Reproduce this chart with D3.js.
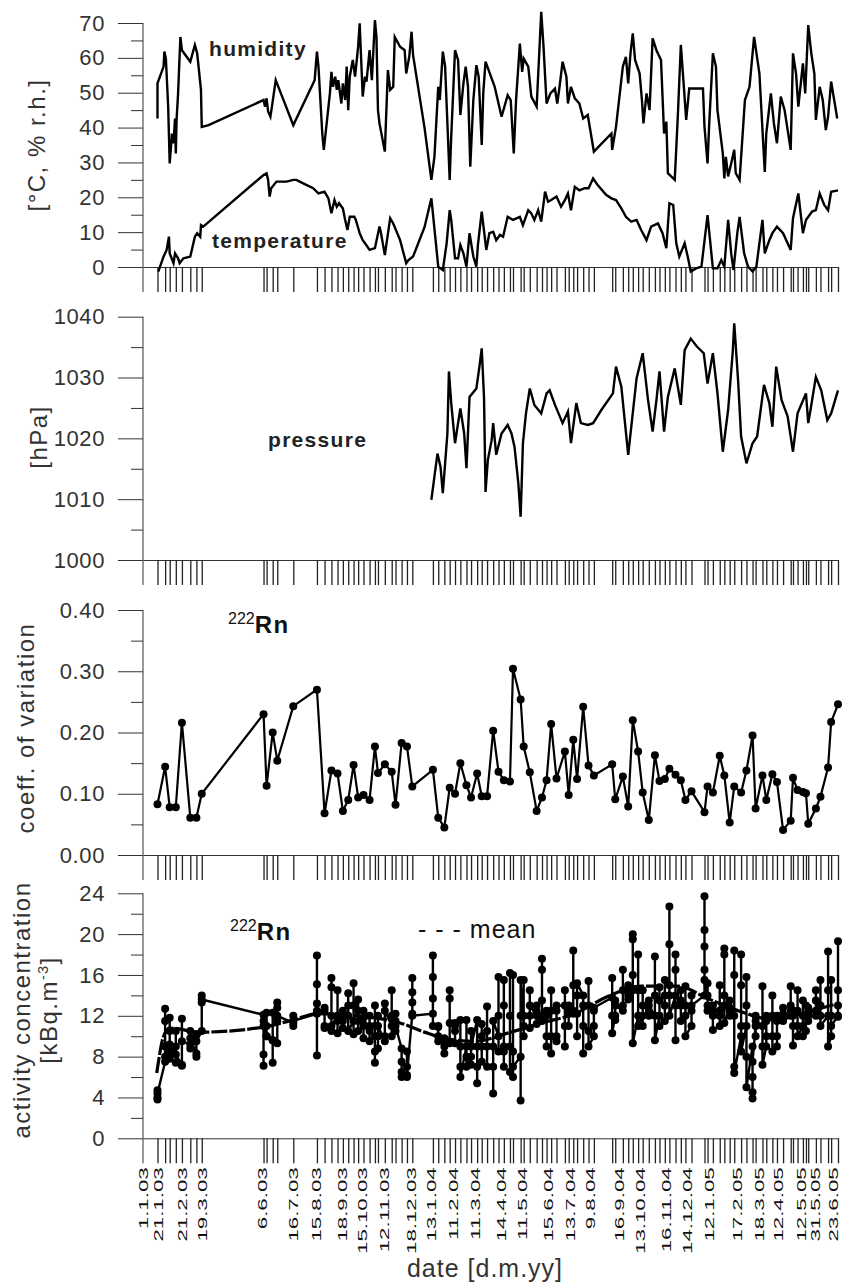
<!DOCTYPE html>
<html>
<head>
<meta charset="utf-8">
<script src="https://cdnjs.cloudflare.com/ajax/libs/d3/7.8.5/d3.min.js"></script>
<style>
body { margin: 0; background: #fff; }
text { font-family: "Liberation Sans", Arial, sans-serif; }
</style>
</head>
<body>
<svg class="chart"></svg>
<script>
// all series: [day counted from 1.1.2003, value]
var humidity = [[19,42.6],[19,52.7],[27,57.5],[28,61.8],[30,59.8],[33,46],[35,29.7],[38,38.3],[40,35.5],[42,42.6],[43,32.6],[44,42.2],[46,49.8],[49,66],[51,62.2],[62,58.9],[68,63.7],[71,61.3],[76,50.8],[77,40.2],[86,40.7],[158,47.9],[160,46],[162,48.4],[164,44.6],[167,43.1],[169,46],[174,53.6],[197,40.7],[225,53.6],[228,61.8],[230,57.5],[235,38.3],[237,33.6],[245,49.8],[247,56],[249,51.7],[252,54.6],[254,50.8],[256,53.6],[260,46.9],[262,52.7],[265,47.9],[267,57.5],[269,45],[271,54.6],[275,59.4],[278,54.6],[282,63.2],[284,69.9],[288,48.9],[291,54.6],[293,53.2],[297,62.2],[300,53.6],[304,70.8],[306,66],[308,45],[310,41.2],[317,33.1],[321,56.5],[324,50.8],[328,51.7],[330,66],[337,63.2],[343,62.2],[345,55.5],[349,60.3],[352,67.5],[354,60.8],[369,40],[378,25],[382,31.6],[387,51.7],[389,47.9],[393,61.8],[396,57.5],[402,25],[404,37.4],[409,62.2],[413,59.4],[416,43.6],[420,52.7],[423,57.5],[426,51.7],[429,28.8],[433,47.9],[437,57.9],[440,54.6],[444,35],[446,49.8],[449,58.9],[461,51.7],[470,43.1],[478,49.3],[482,47.9],[486,32.6],[489,47.9],[494,64.1],[497,56],[499,59.8],[505,57.5],[509,48.9],[516,46],[520,64.1],[522,73.2],[525,63.2],[529,46.9],[534,49.8],[540,51.2],[543,46.9],[546,51.7],[550,58.9],[555,54.6],[557,46.9],[561,51.7],[566,48.4],[572,46.9],[577,42.6],[583,43.6],[591,33.1],[614,38.3],[615,33.6],[620,40.2],[625,49.8],[629,57.5],[633,60.3],[636,52.7],[639,61.3],[642,67],[645,59.4],[651,55.5],[654,47.9],[656,41.2],[660,49.8],[664,45],[668,65.6],[673,62.2],[679,59.4],[683,38.3],[686,41.7],[688,26.9],[697,25],[701,43.1],[705,63.7],[708,54.6],[712,42.2],[716,51.2],[734,51.2],[736,40.2],[740,29.7],[742,40.2],[747,61.3],[751,57.5],[753,45],[760,32.6],[762,25.4],[764,31.6],[767,26],[771,29.7],[775,33.6],[777,26.9],[782,25],[789,47.9],[795,51.7],[801,66],[808,55.5],[815,27.3],[817,38.3],[823,49.8],[827,41.2],[831,35.5],[836,48.9],[841,45],[849,33.6],[852,61.3],[856,55.5],[859,46],[865,58.4],[868,49.8],[872,69.4],[876,61.3],[880,55.5],[882,42.2],[887,51.7],[891,47.9],[895,39.3],[898,43.1],[902,53.2],[906,47.9],[910,42.6]];

var temperature = [[20,-1.3],[27,3],[31,4.9],[34,8.7],[35,3.9],[40,1.1],[42,3.9],[46,2.5],[48,1.1],[53,2.5],[62,3],[68,8.7],[71,9.7],[75,8.7],[76,12],[79,11.6],[158,26.4],[162,26.9],[164,25],[166,20.2],[168,22.6],[175,24.5],[188,24.5],[197,25],[201,25],[210,24],[223,22.6],[230,21.1],[238,21.6],[243,19.7],[247,15.4],[251,19.2],[254,17.3],[257,18.3],[262,16.8],[265,13.5],[268,10.6],[271,14.4],[277,14.4],[279,13.5],[284,9.7],[288,7.7],[291,6.8],[297,4.9],[304,5.4],[310,11.6],[312,9.7],[317,3.4],[324,14],[328,12.5],[337,7.7],[345,1.1],[348,2],[354,3],[369,11.4],[378,19.7],[380,15.4],[387,0.1],[393,-0.9],[398,6.8],[402,16.3],[404,13.5],[409,2.5],[413,2.5],[416,6.3],[420,3.9],[424,0.1],[428,9.7],[433,3],[437,0.1],[439,6.3],[444,15.9],[450,4.9],[454,9.7],[459,10.1],[463,7.7],[468,9.2],[472,8.7],[478,14.4],[485,13.5],[494,14.4],[498,12],[505,16.3],[509,15.4],[513,13.5],[518,16.3],[522,13],[527,21.6],[531,18.7],[535,19.2],[542,20.2],[548,17.3],[553,19.2],[557,21.1],[561,16.3],[566,23],[572,22],[579,22.6],[584,22.6],[590,25.4],[596,23.5],[607,20.7],[614,19.7],[620,19.2],[627,16.8],[633,14.4],[640,13],[647,13.5],[653,10.6],[660,7.7],[666,11.6],[675,12.5],[681,9.7],[686,5.4],[690,18.3],[695,17.8],[699,6.8],[703,3],[710,6.8],[714,3],[718,-1.3],[725,-0.4],[732,0.1],[740,14.9],[747,-0.4],[753,-0.4],[758,2],[762,0.1],[767,13.5],[771,3.9],[774,-0.9],[779,9.7],[782,14.4],[788,3.9],[793,0.1],[799,-1.3],[804,0.1],[812,13.5],[815,3.9],[821,7.7],[825,9.7],[831,11.6],[839,9.7],[849,4.9],[852,14],[859,21.1],[865,9.7],[869,13.5],[877,15.9],[882,16.3],[887,21.1],[893,17.8],[898,16.3],[902,21.6],[911,22]];

var pressure = [[378,1009.9],[382,1013.7],[386,1017.5],[390,1015.3],[393,1011],[396,1015.9],[399,1020.8],[401,1031],[404,1025.8],[409,1019.2],[413,1022.5],[416,1024.9],[421,1020.8],[424,1015.1],[428,1026.8],[437,1028.2],[441,1031.8],[444,1034.8],[447,1026.8],[449,1011.2],[452,1016.4],[457,1019.7],[459,1022.5],[463,1017.3],[470,1020.8],[478,1022.2],[483,1020.8],[487,1018.6],[492,1012.6],[495,1007.1],[498,1019.2],[502,1024.1],[507,1028.2],[513,1025.5],[522,1024.1],[529,1027.4],[533,1027.9],[540,1025.5],[550,1022.5],[557,1024.4],[561,1019.2],[568,1025.8],[574,1022.5],[583,1022.2],[590,1022.5],[601,1024.7],[616,1027.4],[620,1031.8],[627,1028.5],[636,1017.3],[647,1029.9],[655,1034],[662,1026.3],[668,1021.1],[673,1026.3],[677,1031],[683,1021.1],[688,1026.8],[697,1031.5],[705,1025.5],[710,1034.5],[718,1036.4],[726,1035.1],[735,1034],[740,1029],[747,1034],[753,1027.4],[760,1017.8],[767,1024.7],[773,1034.2],[775,1038.9],[780,1029.6],[784,1020.3],[791,1015.9],[799,1019.2],[805,1020.3],[814,1028.8],[821,1025.8],[825,1021.9],[830,1031.8],[837,1026.3],[845,1023.6],[852,1017.8],[858,1024.1],[869,1027.4],[872,1022.5],[875,1024.7],[882,1030.1],[889,1027.9],[897,1023],[902,1024.1],[911,1027.9]];

var coeffVariation = [[19,0.083],[29,0.144],[35,0.078],[43,0.078],[51,0.216],[62,0.061],[70,0.061],[77,0.100],[158,0.230],[162,0.113],[170,0.200],[176,0.154],[197,0.243],[228,0.270],[238,0.068],[247,0.138],[255,0.133],[262,0.072],[269,0.090],[276,0.147],[282,0.094],[289,0.098],[297,0.090],[304,0.177],[308,0.134],[317,0.148],[326,0.136],[331,0.082],[339,0.183],[346,0.177],[353,0.112],[380,0.139],[387,0.061],[395,0.045],[402,0.110],[409,0.100],[416,0.150],[424,0.114],[430,0.094],[438,0.133],[444,0.096],[451,0.096],[459,0.203],[466,0.136],[473,0.122],[481,0.120],[485,0.304],[495,0.254],[499,0.177],[507,0.135],[516,0.072],[523,0.094],[529,0.122],[535,0.214],[542,0.125],[553,0.169],[558,0.098],[564,0.188],[569,0.124],[577,0.242],[584,0.146],[591,0.130],[615,0.148],[619,0.091],[629,0.128],[636,0.079],[642,0.220],[649,0.169],[655,0.102],[663,0.057],[671,0.163],[677,0.121],[684,0.124],[690,0.141],[698,0.131],[705,0.122],[711,0.090],[719,0.104],[736,0.070],[740,0.112],[747,0.102],[756,0.162],[762,0.130],[769,0.053],[775,0.112],[784,0.102],[791,0.138],[799,0.195],[803,0.076],[812,0.130],[817,0.090],[825,0.132],[831,0.119],[839,0.041],[849,0.056],[852,0.126],[858,0.106],[865,0.103],[869,0.101],[872,0.051],[882,0.076],[888,0.095],[898,0.143],[902,0.217],[911,0.246]];

// [day, measured activity concentrations of that sampling ...]
var activity = [[19,4.7,4.0,3.8,4.4],[29,7.5,12.7,9.0,11.5,8.0],[35,8.5,10.5,9.2,11.8,7.8],[43,9.0,10.5,7.4,8.2],[51,7.2,11.7,7.1,9.5],[62,9.2,10.5,8.8,9.8],[70,8.3,10.2,8.0,9.5],[77,10.5,13.3,14.0,13.6],[158,12.1,11.5,7.1,8.2,11.0],[162,10.0,12.3,11.0,10.0],[170,9.6,7.4,9.6,12.3],[176,13.3,12.8,9.3,11.5,12.0],[197,11.3,12.0,11.0,11.5],[228,12.2,17.9,15.1,13.2,8.1,12.5],[238,12.5,11.0,12.8,10.8],[247,10.5,15.7,14.8,12.0,11.0],[255,12.0,14.5,10.3,11.5],[262,11.5,12.5,10.8,12.0],[269,12.0,14.2,13.0,10.5],[276,11.5,15.2,10.2,13.0],[282,12.5,13.6,10.5,11.5],[289,11.0,12.5,9.8,11.8],[297,10.5,12.0,9.5,11.0],[304,11.0,13.0,8.5,7.4,10.0],[308,10.0,12.0,8.8,11.0],[317,9.5,13.2,10.0,12.5],[326,11.0,14.5,10.0,12.0],[331,11.5,12.2,10.5,11.0],[339,8.8,6.0,6.5,7.5],[346,7.0,6.0,8.5,6.2],[353,12.2,15.7,14.3,13.3,12.0],[380,12.2,17.9,15.8,13.7,11.0],[387,11.0,10.0,10.9,9.5],[395,9.5,8.3,9.0,9.8],[402,9.3,14.5,13.7,11.3],[409,11.3,9.3,10.5,11.0],[416,11.6,7.0,9.0,6.0],[424,9.0,11.6,8.0,7.0],[430,8.0,10.5,7.2,9.0],[438,11.6,5.4,7.0,9.0],[444,9.0,11.2,7.5,10.0],[451,10.5,12.9,9.0,7.0],[459,7.0,4.4,9.0,11.5],[466,10.0,15.8,12.0,8.5],[473,8.5,7.0,13.0,15.5,9.0],[481,9.0,16.2,12.0,6.5],[485,6.0,16.0,8.5,7.0],[495,8.0,3.7,12.0,15.5],[499,11.0,15.5,10.0,12.0],[507,12.0,14.5,10.8,13.0],[516,12.0,13.0,11.2,12.5],[523,12.0,17.6,16.5,13.5,11.5],[529,12.0,10.0,9.0,12.5],[535,12.5,14.5,8.3,10.0],[542,10.0,12.5,9.5,13.0],[553,13.0,14.5,9.0,11.0],[558,11.0,12.2,13.0,12.5],[564,12.5,18.4,15.0,12.2],[569,12.2,10.0,14.0,15.2],[577,14.0,8.3,11.0,13.0],[584,13.0,15.4,10.5,9.0],[591,10.0,12.5,11.0,12.8],[615,13.8,15.7,12.0,10.3],[619,12.0,13.5,11.6,13.0],[629,12.5,16.5,13.0,14.5],[636,14.0,15.0,13.6,14.5],[642,14.5,20.0,19.5,16.0,9.3],[649,12.0,18.0,14.5,11.0],[655,12.0,14.5,11.0,13.0],[663,12.5,13.5,12.0,13.0],[671,12.0,17.8,14.0,9.6],[677,12.0,14.8,11.0,13.5],[684,13.0,15.5,11.5,14.0],[690,14.0,22.7,19.0,15.0,12.0],[698,14.0,18.0,16.5,9.6,13.0],[705,13.0,14.5,11.5,13.5],[711,13.0,14.9,12.0,10.0],[719,11.0,14.0,12.5,13.0],[736,14.0,23.7,20.4,18.8,16.5,15.5],[740,14.0,15.2,12.5,13.0],[747,12.0,10.6,13.0,12.5],[756,12.5,15.0,11.0,12.0],[762,13.0,18.6,18.0,14.0,11.3],[769,12.5,13.5,12.0,12.8],[775,12.0,18.4,16.0,7.0,6.4],[784,10.0,18.0,15.0,11.0,8.5],[791,11.0,15.8,13.0,8.0,5.0],[799,9.0,6.0,3.9,4.5,7.5],[803,11.0,12.0,10.0,11.5],[812,11.0,14.9,9.0,7.2],[817,9.0,11.5,10.0,12.0],[825,12.0,14.0,8.5,10.0],[831,10.0,11.5,9.0,12.0],[839,12.0,12.8,11.5,12.2],[849,12.0,14.9,13.0,12.5],[852,12.0,9.1,11.0,12.5],[858,12.5,14.5,11.0,10.0],[865,11.0,13.5,10.0,12.0],[869,12.0,13.0,10.5,12.0],[872,12.0,12.8,11.5,12.3],[882,12.5,14.5,12.0,13.5],[888,13.0,15.5,12.0,11.0],[898,12.0,18.3,14.5,9.0],[902,10.0,12.0,15.5,11.0],[911,12.0,19.3,14.5,11.9,13.0]];

var activityMean = [[18,6.4],[27,10],[35,10.8],[75,10.4],[158,10.9],[197,11.6],[228,12.2],[293,11.9],[337,11.3],[369,10.4],[395,9.8],[435,9.5],[478,10.3],[522,11.3],[566,12.2],[609,13.9],[653,14.9],[701,14.9],[740,13.7],[784,12.4],[828,11.6],[871,12.4],[911,13.2]];

var dateLabels = ["1.1.03","21.1.03","21.2.03","19.3.03","6.6.03","16.7.03","15.8.03","18.9.03","15.10.03","12.11.03","18.12.03","13.1.04","11.2.04","11.3.04","14.4.04","11.5.04","15.6.04","13.7.04","9.8.04","16.9.04","13.10.04","16.11.04","14.12.04","12.1.05","17.2.05","18.3.05","12.4.05","12.5.05","31.5.05","23.6.05"];

var screen = {width: 850, height: 1284};
var axisX = 143;
var rugLength = 25;
var axisColor = "#333";

var startDate = new Date(2003, 0, 1);
var toDate = function(day) { return new Date(startDate.getTime() + day * 864e5); };
var parseLabel = d3.timeParse("%d.%m.%y");

var xScale = d3.scaleTime()
               .domain([startDate, new Date(2005, 5, 30)])
               .range([axisX, 838]);

var svg = d3.select(".chart")
            .attr("width", screen.width)
            .attr("height", screen.height);

svg.append("rect").attr("width", screen.width).attr("height", screen.height).attr("fill", "#fff");

var panels = [
  {top: 23, bottom: 267, domain: [0, 70], major: 10, format: d3.format("d")},
  {top: 316.7, bottom: 560, domain: [1000, 1040], major: 10, format: d3.format("d")},
  {top: 610, bottom: 855, domain: [0, 0.4], major: 0.1, format: d3.format(".2f")},
  {top: 893.3, bottom: 1138.3, domain: [0, 24], major: 4, format: d3.format("d")}
];

var sampleDates = coeffVariation.map(function(d) { return toDate(d[0]); });
var activityDates = activity.map(function(d) { return toDate(d[0]); });

var drawPanel = function(p, rugDates)
{
  var yScale = d3.scaleLinear().domain(p.domain).range([p.bottom, p.top]);
  var majors = d3.range(p.domain[0], p.domain[1] + p.major / 2, p.major);
  var minors = d3.range(p.domain[0] + p.major / 2, p.domain[1], p.major);

  var g = svg.append("g")
             .attr("transform", "translate(" + axisX + ",0)")
             .call(d3.axisLeft(yScale).tickValues(majors).tickSize(25).tickPadding(13)
                     .tickFormat(p.format).tickSizeOuter(0))
             .attr("font-family", null).attr("font-size", 22);
  g.select(".domain").remove();
  g.selectAll("text").attr("fill", axisColor).attr("letter-spacing", 0.6);
  g.selectAll("line").attr("stroke", axisColor);

  var gm = svg.append("g")
              .attr("transform", "translate(" + axisX + ",0)")
              .call(d3.axisLeft(yScale).tickValues(minors).tickSize(12).tickFormat("").tickSizeOuter(0));
  gm.select(".domain").remove();
  gm.selectAll("line").attr("stroke", axisColor);

  // vertical axis line, running down through the date rug
  svg.append("line")
     .attr("x1", axisX).attr("x2", axisX)
     .attr("y1", p.top).attr("y2", p.bottom + rugLength)
     .attr("stroke", axisColor);

  // date axis with a tick for each sampling date
  var gx = svg.append("g")
              .attr("transform", "translate(0," + p.bottom + ")")
              .call(d3.axisBottom(xScale).tickValues(rugDates).tickSize(rugLength)
                      .tickFormat("").tickSizeOuter(0));
  gx.select(".domain").attr("stroke", axisColor);
  gx.selectAll("line").attr("stroke", "#222").attr("stroke-width", 1.3);

  return yScale;
}

var lineFor = function(yScale)
{
  return d3.line()
           .x(function(d) { return xScale(toDate(d[0])); })
           .y(function(d) { return yScale(d[1]); });
}

// panel 1: humidity and temperature
var y1 = drawPanel(panels[0], sampleDates);
svg.append("path").datum(humidity).attr("d", lineFor(y1))
   .attr("fill", "none").attr("stroke", "#000").attr("stroke-width", 2.4);
svg.append("path").datum(temperature).attr("d", lineFor(y1))
   .attr("fill", "none").attr("stroke", "#000").attr("stroke-width", 2.4);

// panel 2: pressure
var y2 = drawPanel(panels[1], sampleDates);
svg.append("path").datum(pressure).attr("d", lineFor(y2))
   .attr("fill", "none").attr("stroke", "#000").attr("stroke-width", 2.4);

// panel 3: coefficient of variation
var y3 = drawPanel(panels[2], sampleDates);
svg.append("path").datum(coeffVariation).attr("d", lineFor(y3))
   .attr("fill", "none").attr("stroke", "#000").attr("stroke-width", 2.2);
svg.append("g")
   .selectAll("circle")
   .data(coeffVariation)
   .enter()
   .append("circle")
   .attr("cx", function(d) { return xScale(toDate(d[0])); })
   .attr("cy", function(d) { return y3(d[1]); })
   .attr("r", 4)
   .attr("fill", "#000");

// panel 4: activity concentration
var y4 = drawPanel(panels[3], activityDates);
var activityPoints = [];
activity.forEach(function(row) {
  row.slice(1).forEach(function(v) { activityPoints.push([row[0], v]); });
});
svg.append("path").datum(activityMean).attr("d", lineFor(y4).curve(d3.curveMonotoneX))
   .attr("fill", "none").attr("stroke", "#000").attr("stroke-width", 3.2)
   .attr("stroke-dasharray", "16,2");
svg.append("path").datum(activityPoints).attr("d", lineFor(y4))
   .attr("fill", "none").attr("stroke", "#000").attr("stroke-width", 2.4);
svg.append("g")
   .selectAll("circle")
   .data(activityPoints)
   .enter()
   .append("circle")
   .attr("cx", function(d) { return xScale(toDate(d[0])); })
   .attr("cy", function(d) { return y4(d[1]); })
   .attr("r", 4)
   .attr("fill", "#000");

// date labels under the last panel, stretched along the reading direction
var gl = svg.append("g")
            .attr("transform", "translate(0," + (panels[3].bottom + 29) + ")")
            .call(d3.axisBottom(xScale)
                    .tickValues(dateLabels.map(parseLabel))
                    .tickSize(0)
                    .tickFormat(function(d, i) { return dateLabels[i]; }));
gl.select(".domain").remove();
gl.selectAll("text")
  .attr("y", 0).attr("dy", "0.35em")
  .attr("font-size", 13.5)
  .attr("fill", "#111")
  .attr("text-anchor", "end")
  .attr("transform", "rotate(-90) scale(1.65,1)");

// axis titles
var titles = [
  {text: "[°C, % r.h.]", x: 45, y: 145},
  {text: "[hPa]", x: 47, y: 437},
  {text: "coeff. of variation", x: 34, y: 728},
  {text: "activity concentration", x: 30, y: 1010}
];
svg.selectAll(".ytitle")
   .data(titles)
   .enter()
   .append("text")
   .classed("ytitle", true)
   .attr("transform", function(d) { return "translate(" + d.x + "," + d.y + ") rotate(-90)"; })
   .attr("text-anchor", "middle")
   .attr("font-size", 24)
   .attr("letter-spacing", 1.5)
   .attr("fill", axisColor)
   .text(function(d) { return d.text; });

var unit = svg.append("text")
              .attr("transform", "translate(57,1010) rotate(-90)")
              .attr("text-anchor", "middle")
              .attr("font-size", 24)
              .attr("letter-spacing", 1.5)
              .attr("fill", axisColor);
unit.append("tspan").text("[kBq.m");
unit.append("tspan").attr("font-size", 14).attr("dy", -9).text("-3");
unit.append("tspan").attr("dy", 9).text("]");

svg.append("text")
   .attr("x", 485).attr("y", 1277)
   .attr("text-anchor", "middle")
   .attr("font-size", 25)
   .attr("letter-spacing", 1)
   .attr("fill", axisColor)
   .text("date [d.m.yy]");

// series labels inside the panels
var labels = [
  {text: "humidity", x: 209, y: 56},
  {text: "temperature", x: 212, y: 248},
  {text: "pressure", x: 268, y: 447}
];
svg.selectAll(".serieslabel")
   .data(labels)
   .enter()
   .append("text")
   .classed("serieslabel", true)
   .attr("x", function(d) { return d.x; })
   .attr("y", function(d) { return d.y; })
   .attr("font-size", 21)
   .attr("font-weight", "bold")
   .attr("letter-spacing", 1.3)
   .attr("fill", "#222")
   .text(function(d) { return d.text; });

var radonLabels = [{x: 228, y: 633}, {x: 230, y: 940}];
radonLabels.forEach(function(d) {
  var t = svg.append("text").attr("x", d.x).attr("y", d.y).attr("fill", "#111");
  t.append("tspan").attr("font-size", 16).attr("dy", -9).text("222");
  t.append("tspan").attr("font-size", 24).attr("font-weight", "bold").attr("dy", 9)
   .attr("letter-spacing", 1.5).text("Rn");
});

svg.append("text")
   .attr("x", 418).attr("y", 938)
   .attr("font-size", 25)
   .attr("letter-spacing", 1)
   .attr("fill", "#111")
   .text("- - - mean");
</script>
</body>
</html>
